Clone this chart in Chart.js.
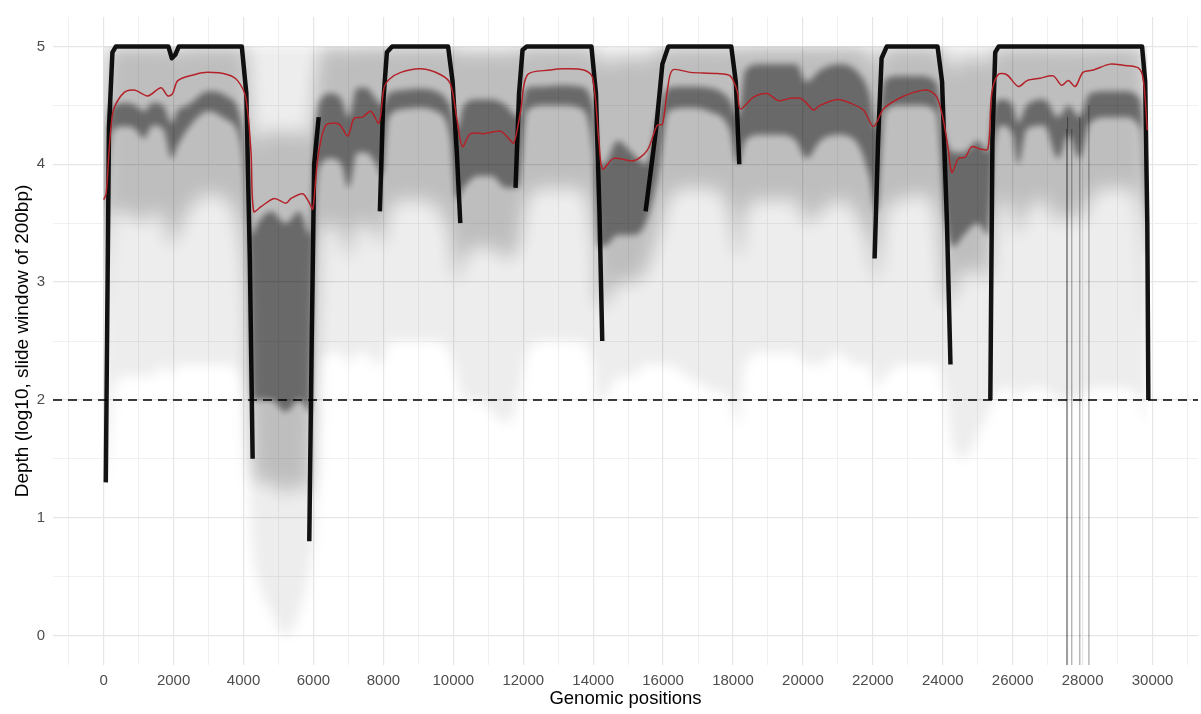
<!DOCTYPE html>
<html>
<head>
<meta charset="utf-8">
<script src="https://cdn.jsdelivr.net/npm/chart.js@4.4.1/dist/chart.umd.min.js"></script>
<style>
    html, body { margin: 0; padding: 0; background: #fff; }
    #wrap { width: 1201px; height: 714px; }
</style>
</head>
<body>
<div id="wrap"><canvas id="depth"></canvas></div>
<script>
// axis extents and labelled ticks
const xMin = -1450, xMax = 31300;
const yMin = -0.25, yMax = 5.25;
const xTickLabels = [0, 2000, 4000, 6000, 8000, 10000, 12000, 14000, 16000, 18000, 20000, 22000, 24000, 26000, 28000, 30000];
const yTickLabels = [0, 1, 2, 3, 4, 5];
const cutoff = 2;
const depthCap = 5;

// mean depth across samples (red)
const meanPos = [0, 70, 150, 220, 300, 590, 880, 1260, 1640, 1830, 1970, 2120, 2590, 2980, 3550, 3830, 4060, 4210, 4290, 4500, 4880, 5210, 5360, 5690, 5870, 5980, 6120, 6350, 6730, 6980, 7160, 7400, 7640, 7870, 8020, 8160, 8500, 9070, 9640, 9920, 10110, 10260, 10490, 10870, 11350, 11580, 11730, 11930, 12120, 12780, 13150, 13730, 13980, 14170, 14270, 14590, 15160, 15550, 15830, 15980, 16120, 16270, 16780, 17550, 17920, 18120, 18210, 18590, 18970, 19300, 19640, 19920, 20070, 20300, 20490, 20980, 21350, 21730, 22020, 22300, 22690, 23160, 23550, 23830, 24020, 24160, 24260, 24450, 24640, 24830, 25060, 25290, 25400, 25580, 25830, 26160, 26410, 26780, 27160, 27400, 27590, 27790, 28010, 28310, 28780, 29160, 29580, 29730, 29850];
const meanVal = [3.70, 3.75, 4.10, 4.35, 4.48, 4.61, 4.63, 4.58, 4.65, 4.58, 4.60, 4.71, 4.76, 4.78, 4.76, 4.71, 4.57, 4.12, 3.60, 3.64, 3.71, 3.67, 3.71, 3.75, 3.68, 3.62, 4.04, 4.33, 4.34, 4.24, 4.39, 4.40, 4.45, 4.35, 4.65, 4.72, 4.78, 4.81, 4.76, 4.68, 4.37, 4.15, 4.26, 4.26, 4.28, 4.22, 4.18, 4.46, 4.76, 4.80, 4.81, 4.80, 4.74, 4.18, 3.96, 4.05, 4.03, 4.12, 4.33, 4.34, 4.62, 4.80, 4.78, 4.77, 4.75, 4.62, 4.47, 4.57, 4.60, 4.54, 4.56, 4.56, 4.53, 4.46, 4.50, 4.55, 4.52, 4.46, 4.32, 4.47, 4.55, 4.61, 4.63, 4.57, 4.37, 4.12, 3.93, 4.05, 4.06, 4.15, 4.13, 4.13, 4.60, 4.76, 4.76, 4.66, 4.71, 4.73, 4.75, 4.67, 4.71, 4.66, 4.78, 4.80, 4.85, 4.84, 4.82, 4.73, 4.29];

// saturated samples (heavy black trace at the cap and amplicon edges)
const capPos = [60, 150, 250, 350, 1850, 1950, 2050, 2150, 3950, 4080, 4180, 4260, 4300,
    5880, 5950, 6020, 6150, 6300,
    7900, 7990, 8100, 8250, 9850, 9980, 10100, 10200, 10300,
    11780, 11880, 11980, 12100, 13950, 14080, 14180, 14260, 14300,
    15500, 15800, 15980, 16150, 17950, 18080, 18180, 18300,
    22050, 22150, 22250, 22400, 23850, 23980, 24120, 24220, 24300,
    25360, 25420, 25500, 25600, 29700, 29790, 29850, 29880];
const capVal = [1.3, 4.3, 4.95, 5, 5, 4.9, 4.93, 5, 5, 4.6, 3.2, 1.5, null,
    0.8, 2.5, 4.0, 4.4, null,
    3.6, 4.5, 4.95, 5, 5, 4.7, 4.1, 3.5, null,
    3.8, 4.6, 4.97, 5, 5, 4.6, 3.6, 2.5, null,
    3.6, 4.3, 4.85, 5, 5, 4.7, 4.0, null,
    3.2, 4.2, 4.9, 5, 5, 4.7, 3.5, 2.3, null,
    2.0, 4.2, 4.95, 5, 5, 4.7, 3.5, 2.0];

// spread of the sample traces
const bandPos = [0, 150, 300, 600, 900, 1150, 1400, 1700, 1950, 2100, 2400, 3000, 3500, 3900, 4100, 4250, 4400, 4800, 5200, 5600, 5900, 6050, 6200, 6500, 6800, 7000, 7250, 7500, 7800, 7950, 8150, 8600, 9000, 9500, 9900, 10100, 10300, 10700, 11100, 11500, 11850, 12100, 12600, 13100, 13600, 14000, 14150, 14300, 14700, 15100, 15500, 15850, 16150, 16700, 17300, 17900, 18150, 18350, 18800, 19300, 19800, 20100, 20500, 21000, 21500, 21900, 22100, 22350, 22800, 23300, 23800, 24100, 24300, 24600, 25000, 25300, 25450, 25700, 26000, 26150, 26400, 26900, 27300, 27600, 27900, 28200, 28700, 29200, 29650, 29850];
const bodyHi = [4.6, 4.95, 5, 5, 5, 5, 5, 5, 5, 4.95, 5, 5, 5, 5, 4.95, 4.3, 4.2, 4.3, 4.25, 4.3, 4.2, 4.7, 4.95, 5, 5, 4.95, 5, 5, 5, 4.98, 5, 5, 5, 5, 5, 4.95, 4.95, 4.95, 4.95, 4.95, 4.95, 5, 5, 5, 5, 4.98, 4.9, 4.85, 4.9, 4.9, 4.9, 4.95, 5, 5, 5, 5, 4.98, 5, 5, 5, 5, 5, 5, 5, 5, 4.95, 4.8, 5, 5, 5, 5, 4.9, 4.8, 4.9, 4.9, 4.85, 4.95, 5, 5, 4.98, 5, 5, 4.98, 5, 4.98, 5, 5, 5, 5, 4.7];
const bodyLo = [2.5, 3.4, 3.6, 3.6, 3.55, 3.5, 3.6, 3.55, 3.3, 3.4, 3.6, 3.75, 3.7, 3.4, 2.8, 1.5, 1.3, 1.3, 1.2, 1.3, 1.2, 2.5, 3.4, 3.5, 3.4, 3.2, 3.5, 3.5, 3.4, 3.3, 3.6, 3.7, 3.7, 3.65, 3.4, 3.0, 3.2, 3.3, 3.3, 3.2, 3.3, 3.7, 3.8, 3.8, 3.8, 3.4, 2.8, 2.8, 3.0, 3.0, 3.1, 3.4, 3.7, 3.8, 3.8, 3.6, 3.2, 3.6, 3.7, 3.7, 3.7, 3.5, 3.6, 3.7, 3.6, 3.3, 3.0, 3.6, 3.7, 3.75, 3.6, 2.8, 2.9, 3.1, 3.1, 3.0, 3.4, 3.7, 3.6, 3.4, 3.6, 3.7, 3.5, 3.6, 3.5, 3.7, 3.8, 3.8, 3.6, 2.5];
const darkHi = [3.8, 4.45, 4.5, 4.52, 4.5, 4.45, 4.52, 4.5, 4.35, 4.45, 4.5, 4.62, 4.58, 4.42, 4.0, 3.4, 3.5, 3.6, 3.5, 3.6, 3.4, 4.3, 4.55, 4.6, 4.55, 4.4, 4.65, 4.65, 4.55, 4.5, 4.6, 4.63, 4.64, 4.62, 4.5, 4.3, 4.5, 4.55, 4.55, 4.5, 4.4, 4.65, 4.66, 4.67, 4.66, 4.5, 4.0, 4.0, 4.2, 4.1, 4.0, 4.4, 4.65, 4.66, 4.65, 4.55, 4.4, 4.8, 4.85, 4.85, 4.85, 4.7, 4.8, 4.85, 4.8, 4.6, 4.3, 4.72, 4.75, 4.75, 4.7, 4.2, 4.1, 4.1, 4.2, 4.1, 4.5, 4.55, 4.5, 4.35, 4.5, 4.55, 4.4, 4.5, 4.4, 4.6, 4.62, 4.62, 4.55, 4.0];
const darkLo = [3.0, 4.0, 4.3, 4.32, 4.3, 4.22, 4.33, 4.3, 4.05, 4.15, 4.3, 4.45, 4.38, 4.2, 3.5, 2.0, 2.0, 2.0, 1.9, 2.0, 1.9, 3.6, 4.0, 4.05, 4.0, 3.8, 4.1, 4.1, 4.0, 3.9, 4.4, 4.47, 4.48, 4.45, 4.25, 3.7, 3.8, 3.9, 3.9, 3.8, 3.8, 4.45, 4.5, 4.5, 4.48, 4.1, 3.3, 3.3, 3.4, 3.4, 3.5, 3.9, 4.45, 4.48, 4.45, 4.3, 4.0, 4.2, 4.25, 4.25, 4.2, 4.05, 4.2, 4.25, 4.2, 3.9, 3.6, 4.45, 4.5, 4.5, 4.45, 3.5, 3.3, 3.4, 3.5, 3.4, 4.1, 4.33, 4.25, 4.0, 4.3, 4.33, 4.05, 4.25, 4.05, 4.35, 4.4, 4.4, 4.3, 3.2];
const floorV = [1.2, 1.6, 2.1, 2.2, 2.2, 2.2, 2.2, 2.3, 2.2, 2.3, 2.3, 2.3, 2.3, 2.2, 1.8, 0.8, 0.5, 0.2, 0.0, 0.2, 0.6, 1.0, 2.3, 2.4, 2.4, 2.3, 2.4, 2.4, 2.3, 2.3, 2.5, 2.5, 2.5, 2.5, 2.4, 2.2, 2.0, 2.0, 1.9, 1.8, 2.0, 2.4, 2.5, 2.5, 2.5, 2.3, 2.0, 2.0, 2.2, 2.2, 2.3, 2.3, 2.3, 2.2, 2.1, 2.0, 1.8, 2.3, 2.4, 2.4, 2.4, 2.3, 2.3, 2.4, 2.3, 2.3, 2.1, 2.2, 2.3, 2.3, 2.3, 2.0, 1.6, 1.5, 1.7, 1.9, 2.0, 2.1, 2.1, 2.0, 2.1, 2.1, 2.0, 2.0, 2.0, 2.1, 2.1, 2.1, 2.0, 1.8];

// samples that drop to zero depth
const dropPos = [27540, 27570, 27690, 27920, 28180];
const dropTop = [4.3, 4.4, 4.3, 4.4, 4.5];
const dropBottom = -0.3;

function pts(xs, ys) {
    return xs.map((x, i) => ({ x: x, y: ys[i] }));
}

const dropPts = [];
dropPos.forEach((x, i) => {
    dropPts.push({ x: x, y: dropTop[i] }, { x: x, y: dropBottom }, { x: x, y: null });
});

// soften the band fills so they read like many overlapping thin traces
const bandBlur = { floor: "blur(9px)", bodyHi: "blur(3px)" };
const softBands = {
    id: "softBands",
    beforeDatasetsDraw(chart) {
        const a = chart.chartArea;
        const top = chart.scales.y.getPixelForValue(depthCap);
        const ctx = chart.ctx;
        ctx.save();
        ctx.beginPath();
        ctx.rect(a.left, top, a.right - a.left, a.bottom - top);
        ctx.clip();
        ctx.filter = "blur(6px)";
    },
    afterDatasetDraw(chart, args) {
        const label = chart.data.datasets[args.index].label;
        if (bandBlur[label]) chart.ctx.filter = bandBlur[label];
        if (label === "darkHi") chart.ctx.restore();
    },
};

const bandStyle = { pointRadius: 0, borderWidth: 0, borderColor: "rgba(0,0,0,0)", cubicInterpolationMode: "monotone" };
const gridMajor = "#e6e6e6";
const gridMinor = "#ececec";
const fontFamily = "'Liberation Sans', Arial, sans-serif";

new Chart(document.getElementById("depth"), {
    type: "line",
    data: {
        datasets: [
            { label: "mean", data: pts(meanPos, meanVal), borderColor: "#b32228", borderWidth: 1.5, pointRadius: 0, tension: 0.3, order: 0 },
            { label: "cutoff", data: [{ x: xMin, y: cutoff }, { x: xMax, y: cutoff }], borderColor: "#000", borderWidth: 1.5, borderDash: [9, 6], pointRadius: 0, order: 1 },
            { label: "cap", data: pts(capPos, capVal), borderColor: "rgba(0,0,0,0.92)", borderWidth: 4.5, pointRadius: 0, spanGaps: false, borderJoinStyle: "round", order: 2 },
            { label: "drop", data: dropPts, borderColor: "rgba(0,0,0,0.2)", borderWidth: 0.8, pointRadius: 0, spanGaps: false, order: 3 },
            Object.assign({ label: "darkHi", data: pts(bandPos, darkHi), fill: "+1", backgroundColor: "rgba(0,0,0,0.45)", order: 4 }, bandStyle),
            Object.assign({ label: "darkLo", data: pts(bandPos, darkLo), order: 5 }, bandStyle),
            Object.assign({ label: "bodyHi", data: pts(bandPos, bodyHi), fill: "+1", backgroundColor: "rgba(0,0,0,0.2)", order: 6 }, bandStyle),
            Object.assign({ label: "bodyLo", data: pts(bandPos, bodyLo), order: 7 }, bandStyle),
            Object.assign({ label: "floor", data: pts(bandPos, floorV), fill: { value: depthCap }, backgroundColor: "rgba(0,0,0,0.07)", order: 8 }, bandStyle),
        ],
    },
    plugins: [softBands],
    options: {
        responsive: true,
        maintainAspectRatio: false,
        animation: false,
        layout: { padding: { top: 4, right: 3, left: 0, bottom: 0 } },
        plugins: { legend: { display: false }, tooltip: { enabled: false } },
        scales: {
            x: {
                type: "linear",
                min: xMin,
                max: xMax,
                afterBuildTicks: (axis) => {
                    const t = [];
                    for (let v = -1000; v <= 31000; v += 1000) t.push({ value: v });
                    axis.ticks = t;
                },
                afterFit: (axis) => { axis.height = 49; },
                border: { display: false },
                grid: {
                    drawTicks: false,
                    color: (ctx) => (ctx.tick && ctx.tick.value % 2000 === 0 ? gridMajor : gridMinor),
                    lineWidth: (ctx) => (ctx.tick && ctx.tick.value % 2000 === 0 ? 1.2 : 0.8),
                },
                ticks: {
                    autoSkip: false,
                    maxRotation: 0,
                    padding: 7,
                    color: "#4d4d4d",
                    font: { family: fontFamily, size: 15 },
                    callback: (v) => (xTickLabels.includes(v) ? String(v) : ""),
                },
                title: {
                    display: true,
                    text: "Genomic positions",
                    color: "#000",
                    padding: { top: 0, bottom: 4 },
                    font: { family: fontFamily, size: 18.5 },
                },
            },
            y: {
                min: yMin,
                max: yMax,
                afterBuildTicks: (axis) => {
                    const t = [];
                    for (let v = 0; v <= 5; v += 0.5) t.push({ value: v });
                    axis.ticks = t;
                },
                afterFit: (axis) => { axis.width = 53; },
                border: { display: false },
                grid: {
                    drawTicks: false,
                    color: (ctx) => (ctx.tick && Number.isInteger(ctx.tick.value) ? gridMajor : gridMinor),
                    lineWidth: (ctx) => (ctx.tick && Number.isInteger(ctx.tick.value) ? 1.2 : 0.8),
                },
                ticks: {
                    autoSkip: false,
                    padding: 8,
                    color: "#4d4d4d",
                    font: { family: fontFamily, size: 15 },
                    callback: (v) => (yTickLabels.includes(v) ? String(v) : ""),
                },
                title: {
                    display: true,
                    text: "Depth (log10, slide window of 200bp)",
                    color: "#000",
                    padding: { top: 11, bottom: 0 },
                    font: { family: fontFamily, size: 19 },
                },
            },
        },
    },
});
</script>
</body>
</html>
